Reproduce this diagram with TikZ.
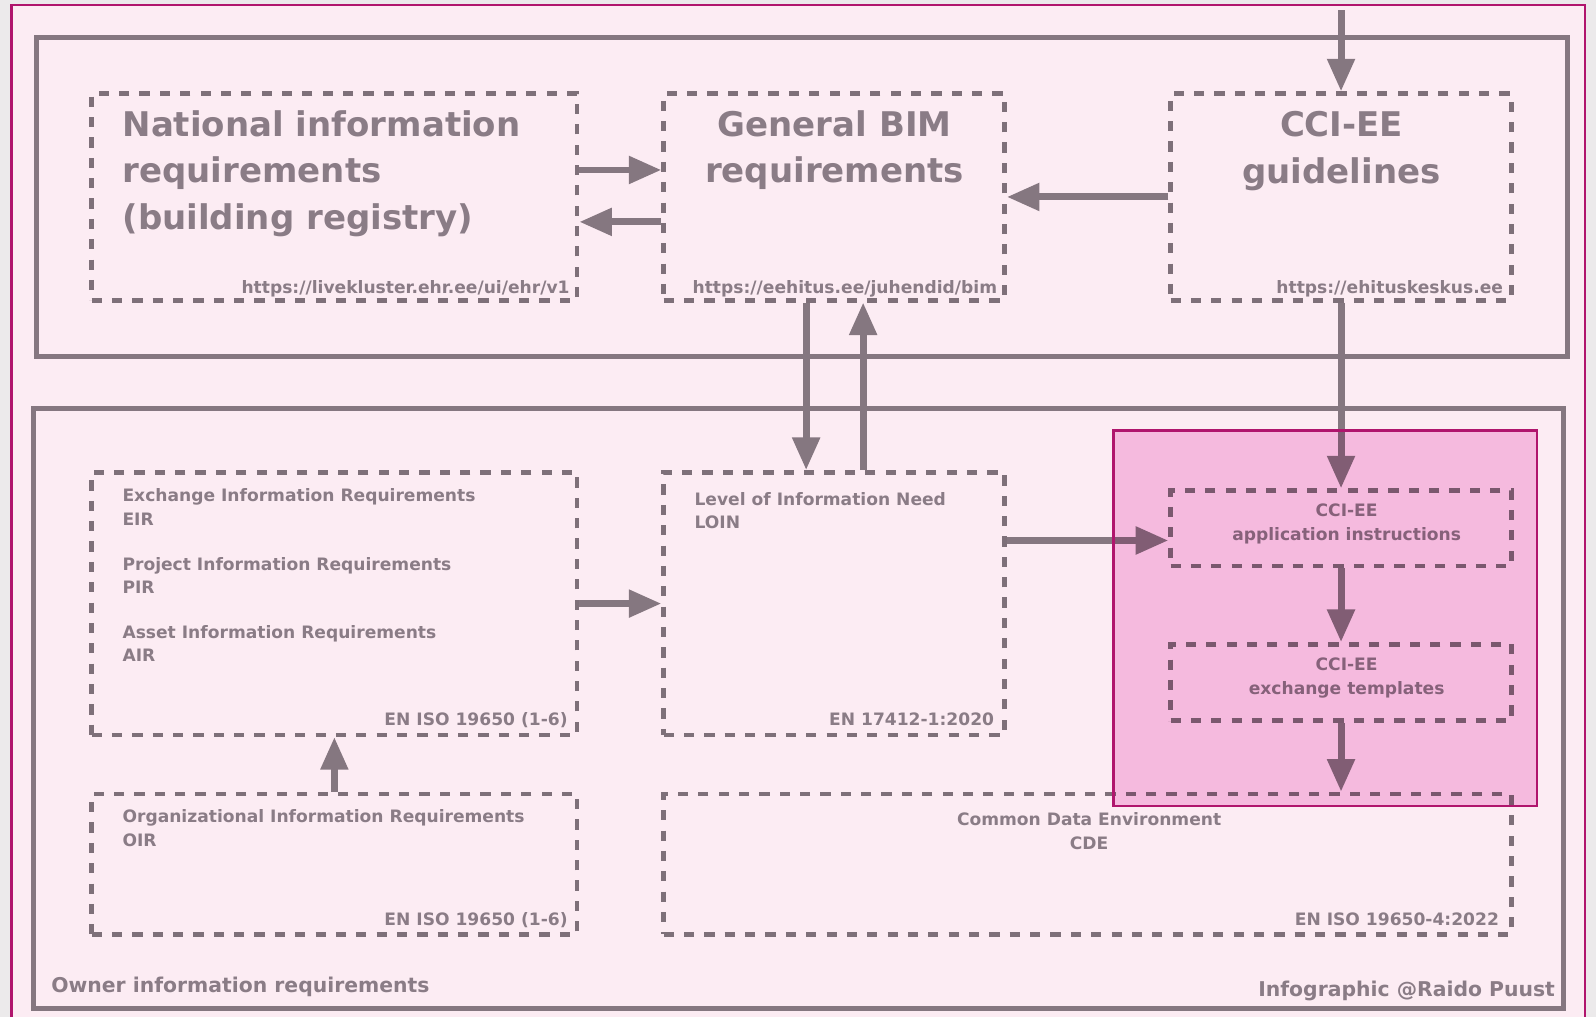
\documentclass[tikz,border=0pt]{standalone}
\usepackage{fontspec}
\setmainfont{DejaVu Sans}
\usetikzlibrary{fit,arrows.meta,positioning}

\definecolor{pagebg}{HTML}{ECEAEB}
\definecolor{sheetbg}{HTML}{FCECF3}
\definecolor{magc}{HTML}{B0156D}
\definecolor{framec}{HTML}{857780}
\definecolor{dashc}{HTML}{7E7079}
\definecolor{txtc}{HTML}{8A7C86}
\definecolor{overlayc}{HTML}{F8C9E9}

\tikzstyle{frame}=[draw=framec,line width=2.4pt]
\tikzstyle{dbox}=[draw=dashc,line width=2.2pt,dash pattern=on 5pt off 5pt,inner sep=0pt]
\tikzstyle{arr}=[draw=framec,line width=3.4pt,-{Triangle[length=16pt,width=13pt]}]
\tikzstyle{title}=[text=txtc,inner sep=0pt,font=\fontsize{16.7}{23}\selectfont\bfseries]
\tikzstyle{small}=[text=txtc,inner sep=0pt,font=\fontsize{8.4}{11.5}\selectfont\bfseries]
\tikzstyle{note}=[text=txtc,inner sep=0pt,font=\fontsize{10}{12}\selectfont\bfseries]

\begin{document}
\begin{tikzpicture}[x=0.5pt,y=-0.5pt]
  \useasboundingbox (0,0) rectangle (1568,999);
  \fill[pagebg] (0,0) rectangle (1568,999);
  \draw[magc,line width=1.3pt,fill=sheetbg] (11,5) rectangle (1557,1012);

  % outer frames
  \draw[frame] (36,37) rectangle (1540,350);
  \draw[frame] (33,401) rectangle (1536,991);

  % dashed boxes
  \node[dbox,fit={(90,92) (567,295)}]    (nat)  {};
  \node[dbox,fit={(652,92) (987,295)}]   (gen)  {};
  \node[dbox,fit={(1150,92) (1485,295)}] (cci)  {};
  \node[dbox,fit={(90,464) (567,722)}]   (eir)  {};
  \node[dbox,fit={(652,464) (987,722)}]  (loin) {};
  \node[dbox,fit={(90,780) (567,918)}]   (oir)  {};
  \node[dbox,fit={(652,780) (1485,918)}] (cde)  {};
  \node[dbox,fit={(1150,482) (1485,556)}] (app) {};
  \node[dbox,fit={(1150,633) (1485,708)}] (exch) {};

  % texts
  \node[title,anchor=north west,align=left] (natT) at (120,108)
    {National information\\requirements\\(building registry)};
  \node[title,anchor=north,align=center] (genT) at (820,108) {General BIM\\requirements};
  \node[title,anchor=north,align=center] (cciT) at (1318,109) {CCI-EE\\guidelines};
  \node[small,anchor=base east] (natU) at (560,288) {https://livekluster.ehr.ee/ui/ehr/v1};
  \node[small,anchor=base east] (genU) at (980,288) {https://eehitus.ee/juhendid/bim};
  \node[small,anchor=base east] (cciU) at (1477,288) {https://ehituskeskus.ee};

  \node[small,anchor=north west,align=left] (eirT) at (120,480)
    {Exchange Information Requirements\\EIR\\[10.5pt]Project Information Requirements\\PIR\\[10.5pt]Asset Information Requirements\\AIR};
  \node[small,anchor=base east] (eirS) at (558,713) {EN ISO 19650 (1-6)};
  \node[small,anchor=north west,align=left] (loinT) at (682,483) {Level of Information Need\\LOIN};
  \node[small,anchor=base east] (loinS) at (977,713) {EN 17412-1:2020};
  \node[small,anchor=north west,align=left] (oirT) at (120,795) {Organizational Information Requirements\\OIR};
  \node[small,anchor=base east] (oirS) at (558,909) {EN ISO 19650 (1-6)};
  \node[small,anchor=north,align=center] (cdeT) at (1070,798) {Common Data Environment\\CDE};
  \node[small,anchor=base east] (cdeS) at (1473,909) {EN ISO 19650-4:2022};
  \node[small,anchor=north,align=center] (appT) at (1323,495) {CCI-EE\\application instructions};
  \node[small,anchor=north,align=center] (exchT) at (1323,646) {CCI-EE\\exchange templates};
  \node[note,anchor=base west] (owner) at (50,975) {Owner information requirements};
  \node[note,anchor=base east] (credit) at (1528,979) {Infographic @Raido Puust};

  % connectors
  \coordinate (feed) at (1317.5,10);
  \coordinate (appin) at ([yshift=-6pt]app.west);
  \draw[arr] (feed) -- (cci.north);
  \draw[arr] ([yshift=13.25pt]nat.east) -- ([yshift=13.25pt]gen.west);
  \draw[arr] ([yshift=-12.25pt]gen.west) -- ([yshift=-12.25pt]nat.east);
  \draw[arr] (cci.west) -- (gen.east);
  \draw[arr] ([xshift=-13.75pt]gen.south) -- ([xshift=-13.75pt]loin.north);
  \draw[arr] ([xshift=14.25pt]loin.north) -- ([xshift=14.25pt]gen.south);
  \draw[arr] (cci.south) -- (app.north);
  \draw[arr] (loin.east |- appin) -- (appin);
  \draw[arr] (eir.east) -- (loin.west);
  \draw[arr] (oir.north) -- (eir.south);
  \draw[arr] (app.south) -- (exch.north);
  \draw[arr] (exch.south) -- (exch.south |- cde.north);

  % highlighted CCI area
  \begin{scope}[blend mode=multiply]
    \fill[overlayc] (1094,423) rectangle (1510,792);
  \end{scope}
  \draw[magc,line width=1.2pt] (1094,423) rectangle (1510,792);
\end{tikzpicture}
\end{document}
